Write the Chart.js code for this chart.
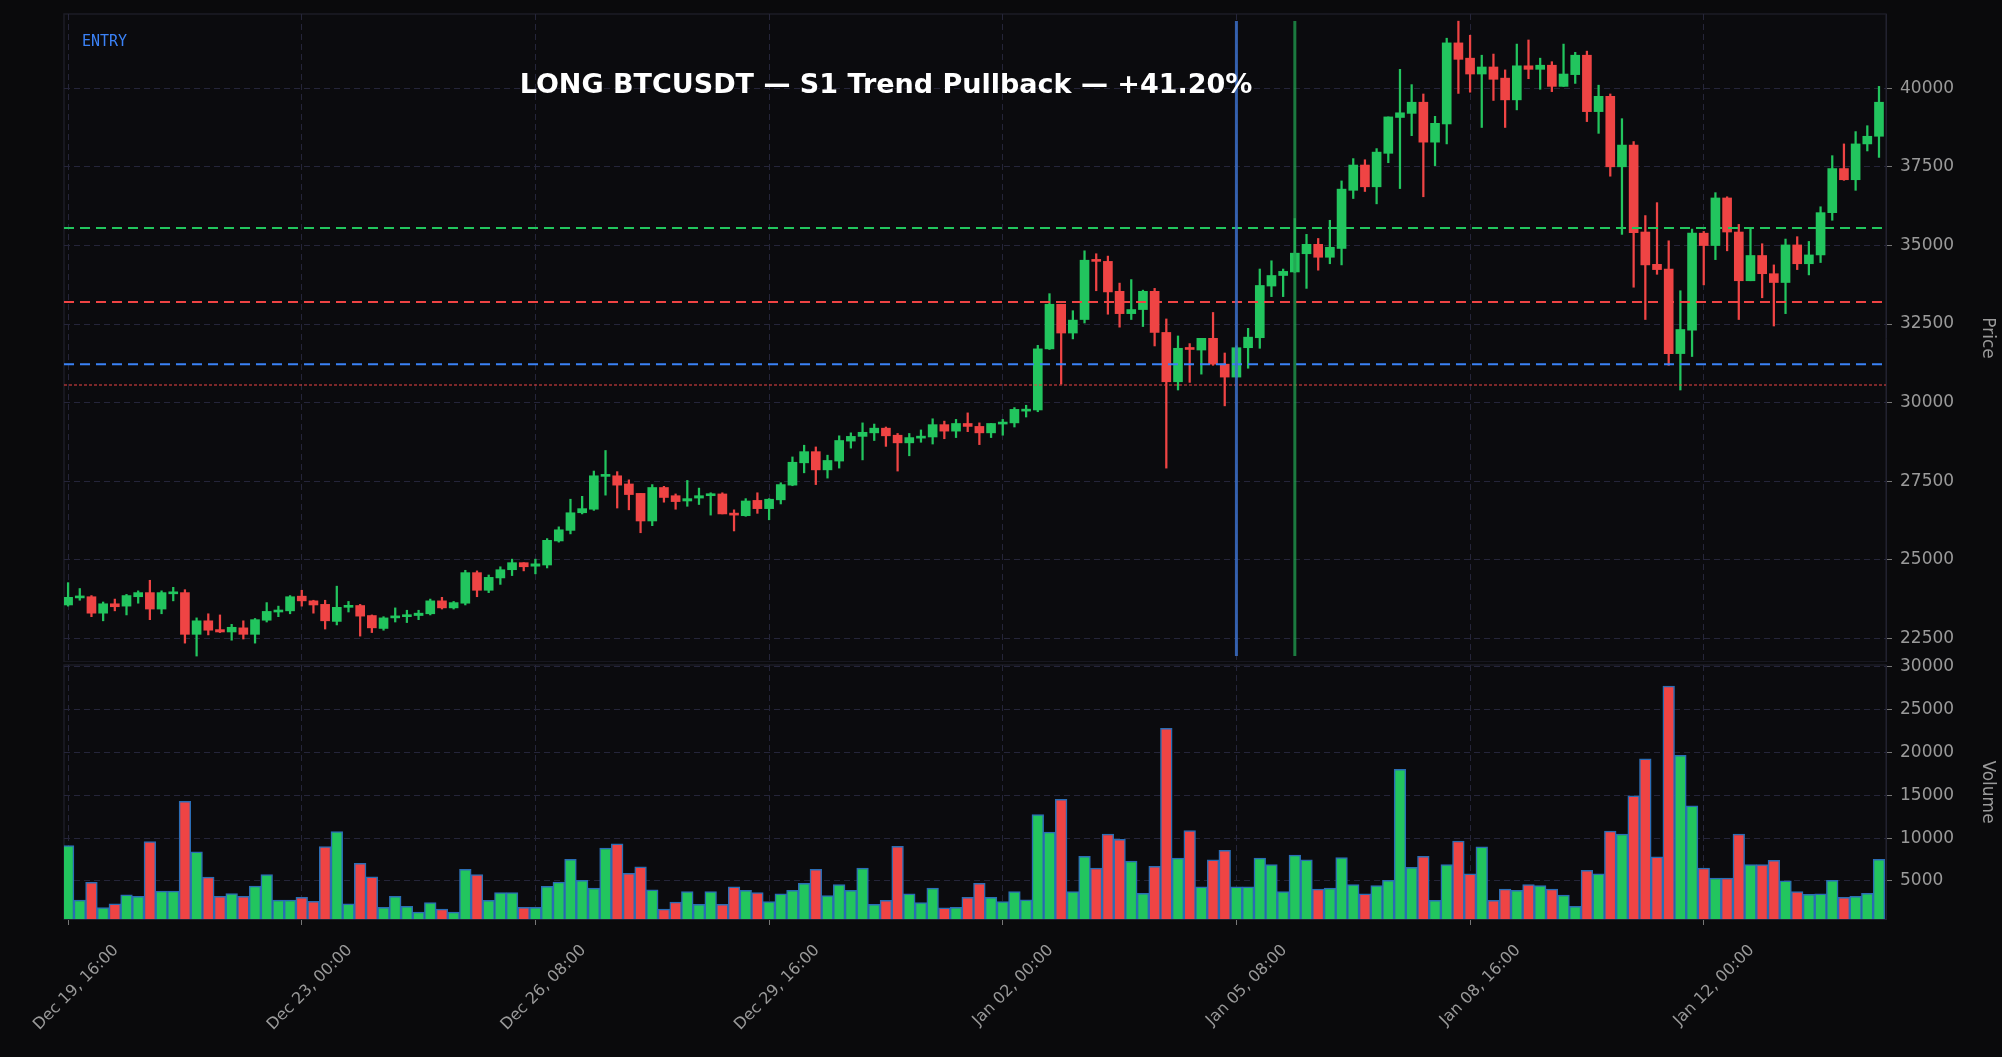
<!DOCTYPE html>
<html><head><meta charset="utf-8">
<script src="https://cdn.jsdelivr.net/npm/chart.js@4.4.1/dist/chart.umd.min.js"></script>
<style>
html,body{margin:0;padding:0;background:#0a0a0c;width:2002px;height:1057px;overflow:hidden}
#w1{position:absolute;left:0;top:0;width:2002px;height:662px}
#w2{position:absolute;left:0;top:645px;width:2002px;height:412px}
</style></head><body>
<div id="w1"><canvas id="c1"></canvas></div>
<div id="w2"><canvas id="c2"></canvas></div>
<script>
const startTime = '2023-12-19T16:00';
const tickLabelEvery = 20;
const openP = [23564,23788,23826,23303,23602,23527,23826,23957,23434,23919,23957,22630,23060,22780,22705,22836,22630,23078,23340,23377,23844,23695,23583,23041,23489,23546,23228,
22817,23153,23191,23228,23284,23695,23471,23620,24592,24031,24424,24685,24909,24797,24835,25600,25936,26497,26609,27654,27673,27412,27113,26235,27300,27039,26871,
26964,27039,27095,26478,26403,26890,26628,26908,27375,28085,28440,27861,28141,28776,28926,29038,29187,28963,28720,28870,28907,29299,29093,29336,29243,29038,
29318,29355,29729,29766,31709,33128,32213,32643,34529,34492,33540,32830,32960,33540,32232,30663,31728,31672,32045,31223,30812,31746,32064,33708,34043,34155,34735,
35034,34623,34903,36752,37556,36864,37929,39069,39199,39554,38284,38863,41441,40955,40451,40675,40320,39629,40712,40600,40731,40058,40432,41049,39255,39741,
37500,38191,35426,34399,34249,31559,32306,35389,34996,36509,35426,33876,34679,34100,33820,35015,34417,34697,36042,37444,37089,38228,38471];
const closeP = [23807,23844,23303,23602,23508,23863,23957,23434,23957,23975,22630,23060,22761,22705,22854,22630,23097,23359,23377,23826,23695,23564,23060,23489,23527,23209,22836,
23153,23209,23228,23303,23695,23471,23639,24592,24031,24442,24685,24909,24779,24872,25619,25955,26497,26628,27673,27692,27375,27076,26235,27300,26983,26852,26946,
27039,27095,26460,26422,26871,26628,26927,27393,28103,28440,27861,28160,28795,28926,29056,29187,28944,28720,28888,28926,29299,29093,29336,29243,29038,29336,
29355,29785,29785,31709,33128,32213,32624,34529,34492,33521,32830,32960,33540,32232,30663,31728,31690,32045,31223,30812,31746,32082,33726,34043,34174,34753,35034,
34623,34940,36790,37556,36864,37967,39087,39218,39554,38284,38882,41441,40918,40451,40675,40283,39629,40712,40600,40731,40058,40451,41049,39255,39741,37500,
38191,35407,34380,34231,31559,32325,35389,34996,36509,35426,33876,34679,34100,33820,35015,34417,34697,36042,37444,37089,38228,38471,39554];
const highP = [24274,24087,23863,23658,23751,23900,24013,24349,24013,24125,24050,23153,23284,23247,22948,23060,23134,23639,23527,23863,24031,23714,23714,24162,23676,23583,23247,
23191,23471,23396,23396,23751,23807,23676,24667,24648,24517,24779,25021,24909,25021,25675,26049,26927,27020,27823,28477,27804,27543,27113,27393,27337,27095,27524,
27281,27132,27132,26590,26946,27132,26946,27450,28272,28645,28590,28328,28944,29038,29355,29318,29224,29019,29019,29131,29486,29411,29467,29673,29355,29336,
29467,29841,29916,31821,33465,33128,32923,34828,34735,34660,33801,33913,33577,33633,32661,32120,31877,32045,32867,31578,31802,32362,34249,34511,34249,35855,35351,
35221,35799,37051,37761,37724,38079,39087,40600,40114,39816,39106,41590,42132,41684,41049,41086,40582,41403,41534,40955,40843,41403,41142,41179,40096,39816,
39031,38303,35949,36360,35146,33558,35519,35444,36678,36547,35668,35538,35053,34380,35202,35277,35127,36229,37854,38228,38620,38807,40058];
const lowP = [23527,23714,23191,23060,23377,23247,23620,23097,23284,23695,22350,21939,22611,22686,22443,22481,22350,23022,23191,23284,23527,23303,22798,22929,23340,22574,22686,
22761,23022,23004,23097,23247,23434,23434,23564,23826,23956,24218,24498,24648,24554,24741,25563,25825,26460,26572,27057,26647,26590,25861,26086,26833,26609,26703,
26759,26422,26460,25918,26385,26478,26273,26777,27356,27767,27393,27599,27917,28552,28178,28795,28608,27823,28309,28739,28683,28851,28888,29075,28664,28888,
28963,29224,29542,29710,31690,30588,32026,32531,33558,32811,32400,32643,32419,31802,27917,30401,30644,30906,31186,29897,30812,31093,31728,33371,33371,34137,33633,
34212,34417,34380,36491,36715,36322,37630,36808,38490,36547,37537,38228,39834,39872,38751,39610,38751,39311,40301,39965,39891,40058,40152,38938,38564,37201,
35351,33670,32643,34081,31186,30401,31466,33745,34548,34828,32643,33876,33334,32437,32830,34231,34062,34455,35799,37070,36752,38004,37799];
const volume = [9140,2780,4850,1900,2340,3370,3220,9590,3820,3820,14300,8400,5440,3220,3520,3220,4400,5740,2780,2780,3080,2630,9000,10770,2340,7070,5480,
1920,3220,2050,1370,2470,1710,1370,6370,5750,2740,3630,3630,1920,1920,4380,4860,7530,5070,4180,8840,9320,5890,6640,3970,1710,2530,3770,
2260,3770,2260,4320,3900,3630,2600,3490,3900,4730,6370,3290,4590,3900,6510,2260,2740,9040,3490,2470,4180,1850,1920,3080,4730,3080,
2600,3770,2810,12740,10690,14520,3770,7880,6510,10480,9860,7330,3560,6710,22810,7670,10890,4320,7470,8560,4320,4320,7670,6920,3770,8010,7470,
4040,4180,7740,4590,3490,4450,5070,18020,6580,7880,2740,6920,9660,5820,8970,2740,4040,3900,4590,4450,4040,3360,2050,6230,5820,10820,
10480,14930,19250,7810,27740,19660,13770,6510,5340,5340,10480,6920,6920,7400,5000,3770,3430,3490,5070,3080,3220,3560,7530];
const priceTicks = [22500,25000,27500,30000,32500,35000,37500,40000];
const volumeTicks = [5000,10000,15000,20000,25000,30000];
const takeProfit = 35550, stopLoss = 33200, entryPrice = 31220, liqLevel = 30560;
const entryIndex = 100, exitIndex = 105;
const titleText = 'LONG BTCUSDT — S1 Trend Pullback — +41.20%';

const MON = ['Jan','Feb','Mar','Apr','May','Jun','Jul','Aug','Sep','Oct','Nov','Dec'];
const t0 = new Date(startTime + ':00Z').getTime();
const labels = openP.map((_, i) => {
  const d = new Date(t0 + i * 4 * 3600e3);
  const p = n => String(n).padStart(2, '0');
  return MON[d.getUTCMonth()] + ' ' + p(d.getUTCDate()) + ', ' + p(d.getUTCHours()) + ':00';
});
const GREEN = '#22c55e', RED = '#ef4444';
const up = openP.map((o, i) => closeP[i] >= o);
const col = up.map(u => u ? GREEN : RED);
const GRID = '#25253a';
const AXW = 116;

function xAxis(showTicks) {
  return {
    type: 'linear', offset: false,
    min: -0.35, max: openP.length - 1 + 0.6,
    grid: { offset: false, color: GRID, drawTicks: showTicks, tickColor: '#777', tickLength: 6 },
    border: { display: true, color: '#222230', dash: [6,4] },
    afterBuildTicks: ax => { const t = []; for (let i = 0; i < openP.length; i += tickLabelEvery) t.push({ value: i }); ax.ticks = t; },
    afterFit: ax => { ax.height = showTicks ? 138 : 0; ax.paddingLeft = 0; ax.paddingRight = 0; },
    ticks: { display: showTicks, autoSkip: false, maxRotation: 45, minRotation: 45, color: '#9a9a9a',
      font: { family: 'DejaVu Sans', size: 16 }, labelOffset: 48, padding: 16,
      callback: (v) => labels[v] }
  };
}
function yAxis(min, max, ticks, title) {
  return {
    position: 'right', min, max,
    afterBuildTicks: ax => { ax.ticks = ticks.map(v => ({ value: v })); },
    afterFit: ax => { ax.width = AXW; ax.paddingTop = 0; ax.paddingBottom = 0; },
    grid: { color: GRID, tickColor: '#777', tickLength: 6 },
    border: { color: '#222230', dash: [6,4] },
    ticks: { color: '#9a9a9a', font: { family: 'DejaVu Sans', size: 17 }, padding: 8, callback: v => String(v) },
    title: { display: true, text: title, color: '#9a9a9a', font: { family: 'DejaVu Sans', size: 17 }, padding: 4 }
  };
}
const bgPlugin = { id: 'bg', beforeDraw(c) { const x = c.ctx; x.save();
  const a = c.chartArea; x.fillStyle = '#0b0b0e'; x.fillRect(a.left,a.top,a.right-a.left,a.bottom-a.top);
  x.strokeStyle = '#1c1c26'; x.lineWidth = 1.5; x.strokeRect(a.left,a.top,a.right-a.left,a.bottom-a.top); x.restore(); } };

const levelsPlugin = { id: 'levels', afterDatasetsDraw(c) {
  const x = c.ctx, a = c.chartArea, ys = c.scales.y, xs = c.scales.x;
  x.save();
  const hl = (v, color, dash, w) => { const y = ys.getPixelForValue(v); x.strokeStyle = color; x.lineWidth = w; x.setLineDash(dash);
    x.beginPath(); x.moveTo(a.left, y); x.lineTo(a.right, y); x.stroke(); };
  hl(takeProfit, GREEN, [10, 6], 2);
  hl(stopLoss, RED, [10, 6], 2);
  hl(entryPrice, '#3b82f6', [10, 6], 2);
  hl(liqLevel, '#ef4444', [3, 2], 1.2);
  x.setLineDash([]);
  const vl = (i, color) => { const px = xs.getPixelForValue(i); x.strokeStyle = color; x.lineWidth = 3;
    x.beginPath(); x.moveTo(px, a.top + 7); x.lineTo(px, a.bottom - 6); x.stroke(); };
  vl(entryIndex, 'rgba(59,110,200,0.85)');
  vl(exitIndex, 'rgba(34,160,80,0.75)');
  x.fillStyle = '#ffffff'; x.font = 'bold 27px "DejaVu Sans"'; x.textAlign = 'center'; x.textBaseline = 'middle';
  x.fillText(titleText, 886, 86);
  x.fillStyle = '#3b82f6'; x.font = '15px "DejaVu Sans Mono"'; x.textAlign = 'left';
  x.fillText('ENTRY', 82, 42);
  x.restore();
} };

const idx = openP.map((_, i) => i);
new Chart(document.getElementById('c1'), {
  type: 'bar',
  data: { datasets: [
    { data: idx.map(i => ({ x: i, y: [lowP[i], highP[i]] })), backgroundColor: col, barThickness: 1.6, grouped: false, order: 2 },
    { data: idx.map(i => ({ x: i, y: [openP[i], closeP[i]] })), backgroundColor: col, barThickness: 9, minBarLength: 2, grouped: false, order: 1 }
  ] },
  options: { responsive: true, maintainAspectRatio: false, animation: false,
    layout: { padding: { left: 64, top: 14, right: 0, bottom: 0 } },
    plugins: { legend: { display: false }, tooltip: { enabled: false } },
    scales: { x: xAxis(false), y: yAxis(21750, 42360, priceTicks, 'Price') } },
  plugins: [bgPlugin, levelsPlugin]
});
new Chart(document.getElementById('c2'), {
  type: 'bar',
  data: { datasets: [
    { data: idx.map(i => ({ x: i, y: volume[i] })), backgroundColor: col, borderColor: '#2a6db5', borderWidth: 1.5, barPercentage: 1, categoryPercentage: 1, grouped: false }
  ] },
  options: { responsive: true, maintainAspectRatio: false, animation: false,
    layout: { padding: { left: 64, top: 20, right: 0, bottom: 0 } },
    plugins: { legend: { display: false }, tooltip: { enabled: false } },
    scales: { x: xAxis(true), y: yAxis(560, 30200, volumeTicks, 'Volume') } },
  plugins: [bgPlugin]
});
</script></body></html>
